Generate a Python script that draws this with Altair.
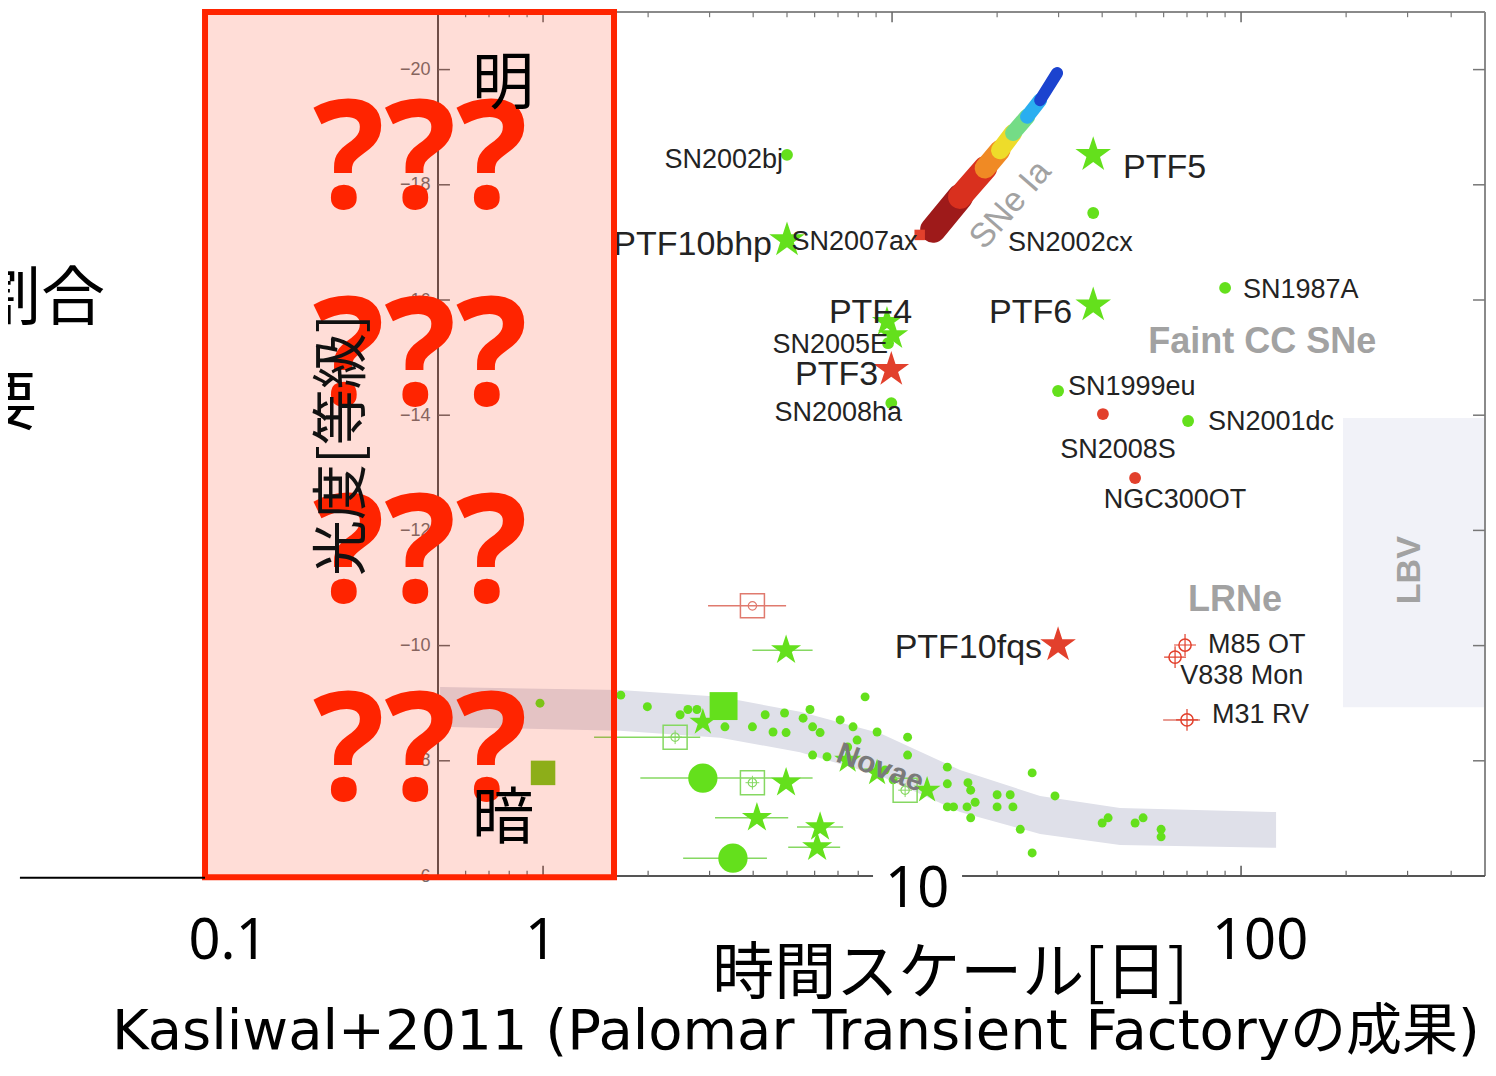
import altair as alt
import pandas as pd

# ---------------- colours ----------------
GREEN = "#64e01c"
GREEN_LIGHT = "#86d862"
RED = "#e2402c"
RED_LIGHT = "#e07a6e"
INK = "#232323"
GREY = "#a2a2a2"
SLIDE_RED = "#ff2400"

# ---------------- data (timescale in days, peak absolute magnitude) ----------------
green_dot_days = [5.0, 37.7, 90.0, 9.74, 9.95, 29.9, 70.5]
green_dot_mag = [-18.52, -17.51, -16.21, -15.25, -14.21, -14.42, -13.90]

green_star_days = [5.0, 37.7, 37.7]
green_star_mag = [-17.04, -18.52, -15.91]
ptf4_days = [9.67, 10.07]
ptf4_mag = [-15.62, -15.39]

red_star_days = [9.95, 29.9]
red_star_mag = [-14.79, -10.01]
red_dot_days = [40.2, 49.7]
red_dot_mag = [-14.02, -12.91]
red_square_days = [12.0]
red_square_mag = [-17.13]

lrn_days = [69.1, 64.7, 70.0]
lrn_mag = [-10.01, -9.80, -8.71]

nova_days = [0.98, 1.67, 1.99, 2.47, 2.60, 2.76, 3.32, 3.98, 4.33, 4.56, 4.97, 4.92, 5.56,
             5.82, 5.92, 6.22, 8.37, 7.10, 7.73, 9.06, 11.08, 5.92, 6.51, 7.46, 7.94, 11.08,
             9.55, 10.07, 14.4, 14.4, 14.4, 15.0, 16.5, 16.8, 17.3, 16.4, 16.8, 20.0, 21.8,
             20.0, 22.2, 23.3, 25.2, 29.3, 25.2, 40.0, 41.6, 49.7, 52.4, 59.0, 59.0]
nova_mag = [-9.00, -9.14, -8.94, -8.80, -8.89, -8.89, -8.59, -8.59, -8.80, -8.50, -8.49, -8.83,
            -8.74, -8.89, -8.59, -8.49, -9.11, -8.71, -8.59, -8.50, -8.41, -8.10, -8.07, -8.24,
            -8.36, -8.10, -7.84, -7.67, -7.89, -7.60, -7.20, -7.20, -7.62, -7.49, -7.28, -7.20,
            -7.01, -7.41, -7.41, -7.20, -7.20, -6.81, -7.79, -7.39, -6.40, -6.92, -7.01, -6.92,
            -7.01, -6.81, -6.68]

nova_star_days = [2.87, 7.46, 9.06, 12.6]
nova_star_mag = [-8.67, -8.01, -7.79, -7.49]
big_star_days = [4.97, 4.97, 4.10, 6.22, 6.10]
big_star_mag = [-9.92, -7.62, -7.01, -6.85, -6.50]
big_circle_days = [2.87, 3.50]
big_circle_mag = [-7.70, -6.31]
big_square_days = [3.29]
big_square_mag = [-8.95]
small_square_days = [1.0]
small_square_mag = [-7.79]
open_sq_days = [2.39, 3.98, 10.9]
open_sq_mag = [-8.41, -7.62, -7.49]
red_open_sq_days = [3.98]
red_open_sq_mag = [-10.69]

green_err_lo = [3.98, 1.90, 3.11, 5.34, 5.04, 2.52, 1.40]
green_err_hi = [5.92, 5.92, 5.04, 7.24, 7.10, 4.38, 2.82]
green_err_mag = [-9.92, -7.70, -7.01, -6.85, -6.50, -6.31, -8.41]
red_err_lo = [2.97, 59.8]
red_err_hi = [4.97, 76.3]
red_err_mag = [-10.69, -8.71]

# novae locus band
band_days = [0.507, 1.662, 3.215, 5.45, 9.24, 15.66, 26.56, 45.0, 126.0]
band_top = [-9.28, -9.23, -9.11, -8.85, -8.48, -7.84, -7.39, -7.18, -7.11]
band_bot = [-8.59, -8.52, -8.40, -8.15, -7.74, -7.11, -6.73, -6.54, -6.49]

# SNe Ia locus (colour-coded strip)
snia_days = [13.11, 15.66, 18.48, 20.39, 22.22, 24.37, 26.56, 29.71]
snia_mag = [-17.22, -17.79, -18.29, -18.60, -18.90, -19.18, -19.47, -19.94]
snia_colors = ["#9e1a1a", "#d9301e", "#f08a24", "#eedc2a", "#74dc86", "#2aaef0", "#1b43cf"]
snia_widths = [26, 24, 21, 18, 16, 14, 12]

# LBV region
lbv_days = [196, 500]
lbv_mag = [-13.95, -8.93]

# labels
big_r_text = ["PTF10bhp", "PTF6", "PTF4", "PTF3", "PTF10fqs"]
big_r_days = [4.53, 32.8, 11.41, 9.12, 26.9]
big_r_mag = [-16.955, -15.77, -15.77, -14.70, -9.96]
big_l_text = ["PTF5"]
big_l_days = [45.9]
big_l_mag = [-18.29]
sm_r_text = ["SN2002bj", "SN2005E", "SN2008ha"]
sm_r_days = [4.87, 9.74, 10.68]
sm_r_mag = [-18.43, -15.22, -14.04]
sm_l_text = ["SN2007ax", "SN2002cx", "SN1987A", "SN1999eu", "SN2001dc", "M85 OT", "V838 Mon", "M31 RV"]
sm_l_days = [5.15, 21.5, 101.3, 31.9, 80.4, 80.4, 66.9, 82.6]
sm_l_mag = [-17.01, -16.99, -16.17, -14.49, -13.88, -10.01, -9.47, -8.80]
sm_c_text = ["SN2008S", "NGC300OT"]
sm_c_days = [44.4, 64.7]
sm_c_mag = [-13.40, -12.53]
class_text = ["Faint CC SNe", "LRNe"]
class_days = [54.2, 70.5]
class_mag = [-15.27, -10.79]

# axis ticks of the inner figure
y_ticks = [-20, -18, -16, -14, -12, -10, -8, -6]
y_inner_ticks = [-20, -18, -16, -14, -12, -10, -8]
x_major = [1, 10, 100]
x_minor = [0.6, 0.7, 0.8, 0.9, 2, 3, 4, 5, 6, 7, 8, 9, 20, 30, 40, 50, 60, 70, 80, 90, 200, 300, 400]

# slide annotations
slide_num_text = ["0.1", "1", "100"]
slide_num_days = [0.1252, 0.987, 113.4]
slide_num_mag = [-4.854, -4.854, -4.854]
ten_days = [11.8]
ten_mag = [-5.757]
ten_box_days = [8.82, 15.87]
ten_box_mag = [-6.19, -5.32]
q_days = [0.444, 0.444, 0.444, 0.444]
q_mag = [-17.60, -14.18, -10.76, -7.32]
box_days = [0.1075, 1.597]
box_mag = [-21.0, -5.98]

STAR = ("M0,-1L0.225,-0.309L0.951,-0.309L0.363,0.118L0.588,0.809L0,0.382"
        "L-0.588,0.809L-0.363,0.118L-0.951,-0.309L-0.225,-0.309Z")
CROSS = "M-1,0L1,0M0,-1L0,1"

XS = alt.Scale(type="log", domain=[0.5, 500], nice=False)
YS = alt.Scale(domain=[-21, -6], reverse=True, nice=False, zero=False)
YAXIS = alt.Axis(values=y_ticks, title=None, ticks=False, domain=False, grid=False,
                 labelFont="Liberation Sans", labelFontSize=18, labelColor="#707070",
                 labelPadding=8)


def X(f="x"):
    return alt.X(f"{f}:Q", scale=XS, axis=None)


def Y(f="y"):
    return alt.Y(f"{f}:Q", scale=YS, axis=YAXIS)


def pts(days, mag, shape, size, color, filled=True, sw=1.5, opacity=1.0):
    d = pd.DataFrame({"x": days, "y": mag})
    return alt.Chart(d).mark_point(shape=shape, size=size, filled=filled, color=color,
                                   strokeWidth=sw, opacity=opacity).encode(x=X(), y=Y())


def txt(texts, days, mag, **kw):
    d = pd.DataFrame({"t": texts, "x": days, "y": mag})
    return alt.Chart(d).mark_text(**kw).encode(x=X(), y=Y(), text="t:N")


def hrule(lo, hi, mag, color, width):
    d = pd.DataFrame({"x": lo, "x2": hi, "y": mag})
    return alt.Chart(d).mark_rule(color=color, strokeWidth=width).encode(
        x=X(), x2=alt.X2("x2"), y=Y())


def vrule(days, lo, hi, color, width):
    d = pd.DataFrame({"x": days, "y": lo, "y2": hi})
    return alt.Chart(d).mark_rule(color=color, strokeWidth=width).encode(
        x=X(), y=Y(), y2=alt.Y2("y2"))


def rect(xs, ys, **kw):
    d = pd.DataFrame({"x": [xs[0]], "x2": [xs[1]], "y": [ys[0]], "y2": [ys[1]]})
    return alt.Chart(d).mark_rect(**kw).encode(x=X(), x2=alt.X2("x2"), y=Y(), y2=alt.Y2("y2"))


layers = []

# background regions
layers.append(rect(lbv_days, lbv_mag, color="#f1f2f8"))
band = pd.DataFrame({"x": band_days, "y": band_top, "y2": band_bot})
layers.append(alt.Chart(band).mark_area(color="#dfe0e9").encode(x=X(), y=Y(), y2=alt.Y2("y2")))

# SNe Ia strip
seg = pd.DataFrame({"x": snia_days[:-1], "x2": snia_days[1:], "y": snia_mag[:-1],
                    "y2": snia_mag[1:], "c": snia_colors, "w": snia_widths})
layers.append(alt.Chart(seg).mark_rule(strokeCap="round").encode(
    x=X(), x2=alt.X2("x2"), y=Y(), y2=alt.Y2("y2"),
    color=alt.Color("c:N", scale=None), strokeWidth=alt.StrokeWidth("w:Q", scale=None)))

# frame and inward ticks
layers.append(vrule([0.5], [-21], [-6], "#555555", 2))
layers.append(vrule([500], [-21], [-6], "#8a8a8a", 2))
layers.append(hrule([0.5], [500], [-21], "#8a8a8a", 2))
layers.append(hrule([0.5], [500], [-6], "#555555", 2))
layers.append(hrule([0.5] * len(y_inner_ticks), [0.541] * len(y_inner_ticks), y_inner_ticks, "#666666", 1.5))
layers.append(hrule([462] * len(y_inner_ticks), [500] * len(y_inner_ticks), y_inner_ticks, "#777777", 1.5))
layers.append(vrule(x_major, [-6] * 3, [-6.18] * 3, "#555555", 1.5))
layers.append(vrule(x_minor, [-6] * len(x_minor), [-6.09] * len(x_minor), "#666666", 1.2))
layers.append(vrule(x_major, [-21] * 3, [-20.82] * 3, "#666666", 1.5))
layers.append(vrule(x_minor, [-21] * len(x_minor), [-20.91] * len(x_minor), "#777777", 1.2))

# error bars
layers.append(hrule(green_err_lo, green_err_hi, green_err_mag, GREEN_LIGHT, 1.5))
layers.append(hrule(red_err_lo, red_err_hi, red_err_mag, RED_LIGHT, 1.5))

# novae and other faint transients
layers.append(pts(nova_days, nova_mag, "circle", 80, GREEN))
layers.append(pts(nova_star_days, nova_star_mag, STAR, 800, GREEN))
layers.append(pts(big_star_days, big_star_mag, STAR, 1000, GREEN))
layers.append(pts(big_circle_days, big_circle_mag, "circle", 860, GREEN))
layers.append(pts(big_square_days, big_square_mag, "square", 780, GREEN))
layers.append(pts(small_square_days, small_square_mag, "square", 600, "#78c81e"))
layers.append(pts(open_sq_days, open_sq_mag, "square", 576, GREEN_LIGHT, filled=False))
layers.append(pts(open_sq_days, open_sq_mag, "circle", 70, GREEN_LIGHT, filled=False, sw=1.2))
layers.append(pts(open_sq_days, open_sq_mag, CROSS, 190, GREEN_LIGHT, filled=False, sw=1.0))
layers.append(pts(red_open_sq_days, red_open_sq_mag, "square", 576, RED_LIGHT, filled=False))
layers.append(pts(red_open_sq_days, red_open_sq_mag, "circle", 70, RED_LIGHT, filled=False, sw=1.2))
layers.append(txt(["Novae"], [9.24], [-7.875], font="Liberation Sans", fontSize=30,
                  fontWeight="bold", color="#7a7a7a", angle=20, align="center", baseline="middle"))

# labelled transients
layers.append(pts(green_dot_days, green_dot_mag, "circle", 140, GREEN))
layers.append(pts(green_star_days, green_star_mag, STAR, 1400, GREEN))
layers.append(pts(ptf4_days, ptf4_mag, STAR, 1000, GREEN))
layers.append(pts(red_star_days, red_star_mag, STAR, 1400, RED))
layers.append(pts(red_dot_days, red_dot_mag, "circle", 140, RED))
layers.append(pts(red_square_days, red_square_mag, "square", 110, RED))
layers.append(pts(lrn_days, lrn_mag, "circle", 150, RED, filled=False, sw=1.5))
layers.append(pts(lrn_days, lrn_mag, CROSS, 480, RED, filled=False, sw=1.2))

lab = dict(font="Liberation Sans", color=INK, baseline="middle")
layers.append(txt(big_r_text, big_r_days, big_r_mag, fontSize=34, align="right", **lab))
layers.append(txt(big_l_text, big_l_days, big_l_mag, fontSize=34, align="left", **lab))
layers.append(txt(sm_r_text, sm_r_days, sm_r_mag, fontSize=27, align="right", **lab))
layers.append(txt(sm_l_text, sm_l_days, sm_l_mag, fontSize=27, align="left", **lab))
layers.append(txt(sm_c_text, sm_c_days, sm_c_mag, fontSize=27, align="center", **lab))
layers.append(txt(class_text, class_days, class_mag, font="Liberation Sans", fontSize=36,
                  fontWeight="bold", color=GREY, align="left", baseline="middle"))
layers.append(txt(["SNe Ia"], [21.9], [-17.65], font="Liberation Sans", fontSize=34,
                  color=GREY, angle=311, align="center", baseline="middle"))
layers.append(txt(["LBV"], [305], [-11.31], font="Liberation Sans", fontSize=34,
                  fontWeight="bold", color=GREY, angle=270, align="center", baseline="middle"))

# white patch behind the slide's "10"
layers.append(rect(ten_box_days, ten_box_mag, color="white"))

# slide overlay box
layers.append(rect(box_days, box_mag, fill=SLIDE_RED, fillOpacity=0.155,
                   stroke=SLIDE_RED, strokeWidth=6))

# slide text
JP = "Noto Sans CJK JP"
LAT = '"Noto Sans", "Noto Sans CJK JP", sans-serif'
CITE = '"DejaVu Sans", "Noto Sans CJK JP", sans-serif'
layers.append(txt(["???"] * 4, q_days, q_mag, font=LAT, fontSize=150, fontWeight="bold",
                  color=SLIDE_RED, align="center", baseline="alphabetic"))
layers.append(txt(["明"], [0.768], [-19.73], font=JP, fontSize=62, color="black",
                  align="center", baseline="middle"))
layers.append(txt(["暗"], [0.768], [-6.97], font=JP, fontSize=62, color="black",
                  align="center", baseline="middle"))
layers.append(txt(["光度[等級]"], [0.267], [-13.48], font=JP, fontSize=56, color="#111111",
                  angle=270, align="center", baseline="middle"))
layers.append(txt(["割合"], [0.0556], [-16.0], font=JP, fontSize=64, color="black",
                  align="right", baseline="middle"))
layers.append(txt(["要"], [0.0355], [-14.18], font=JP, fontSize=64, color="black",
                  align="right", baseline="middle"))
layers.append(txt(slide_num_text, slide_num_days, slide_num_mag, font=LAT, fontSize=56,
                  color="black", align="center", baseline="middle"))
layers.append(txt(["10"], ten_days, ten_mag, font=LAT, fontSize=56, color="black",
                  align="center", baseline="middle"))
layers.append(txt(["時間スケール[日]"], [14.67], [-4.28], font=JP, fontSize=62, color="black",
                  align="center", baseline="middle"))
layers.append(txt(["Kasliwal+2011 (Palomar Transient Factoryの成果)"], [0.0582], [-2.997],
                  font=CITE, fontSize=56, color="black", align="left", baseline="alphabetic"))
layers.append(hrule([0.0317], [0.1075], [-5.97], "black", 2))

chart = alt.layer(*layers).properties(
    width=1047,
    height=864,
    padding={"left": 430, "top": 4, "right": 3, "bottom": 184},
    autosize=alt.AutoSizeParams(type="none"),
    background="white",
).configure_view(stroke=None)

chart.save("out.html", embed_options={"renderer": "svg", "actions": False})
